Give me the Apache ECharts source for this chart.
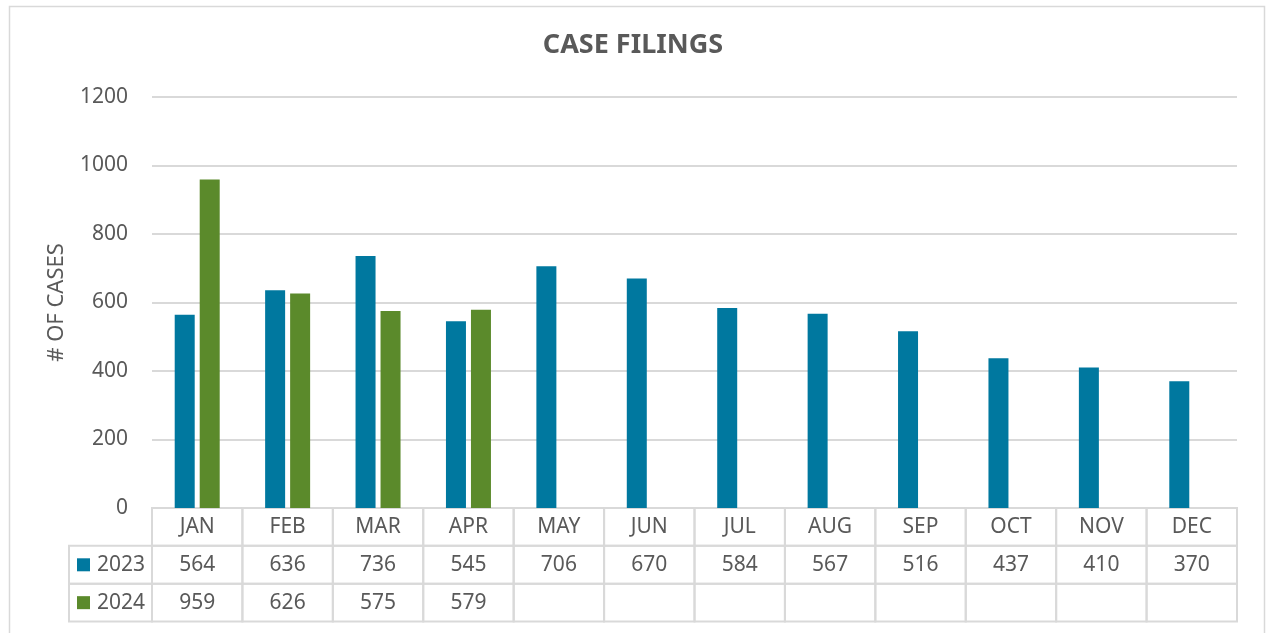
<!DOCTYPE html>
<html>
<head>
<meta charset="utf-8">
<script src="https://cdn.jsdelivr.net/npm/echarts@6/dist/echarts.min.js"></script>
<style>
  html, body { margin: 0; padding: 0; background: #fff; }
  #chart { width: 1266px; height: 633px; }
</style>
</head>
<body>
<div id="chart"></div>
<script>
const months = ["JAN", "FEB", "MAR", "APR", "MAY", "JUN", "JUL", "AUG", "SEP", "OCT", "NOV", "DEC"];
const cases2023 = [564, 636, 736, 545, 706, 670, 584, 567, 516, 437, 410, 370];
const cases2024 = [959, 626, 575, 579, null, null, null, null, null, null, null, null];
const yTicks = [0, 200, 400, 600, 800, 1000, 1200];

const blue = "#00789F";
const green = "#5B8A2B";
const grey = "#595959";
const lineGrey = "#d9d9d9";
const font = "Noto Sans";

// left column of the data table (legend keys), in month units
const keyStart = -83 / 90.42;

// table cells: [x0, x1, row, text, kind]
const cells = [];
months.forEach((m, i) => cells.push([i, i + 1, 0, m, "hdr"]));
cells.push([keyStart, 0, 1, "2023", "key"]);
cases2023.forEach((v, i) => cells.push([i, i + 1, 1, v == null ? "" : String(v), "val"]));
cells.push([keyStart, 0, 2, "2024", "key"]);
cases2024.forEach((v, i) => cells.push([i, i + 1, 2, v == null ? "" : String(v), "val"]));

function renderCell(params, api) {
  const row = api.value(2);
  const p0 = api.coord([api.value(0), row]);
  const p1 = api.coord([api.value(1), row]);
  const h = api.size([0, 1])[1];
  const x = p0[0], w = p1[0] - p0[0], y = p0[1] - h / 2;
  const text = cells[params.dataIndex][3];
  const kind = cells[params.dataIndex][4];
  const children = [{
    type: "rect",
    shape: { x: x, y: y, width: w, height: h },
    style: { fill: "none", stroke: lineGrey, lineWidth: 2 }
  }];
  if (kind === "key") {
    children.push({
      type: "rect",
      shape: { x: x + 8, y: p0[1] - 6.5, width: 13, height: 13 },
      style: { fill: row === 1 ? blue : green }
    });
    children.push({
      type: "text",
      style: { text: text, x: x + 28, y: p0[1], align: "left", verticalAlign: "middle",
        fill: grey, fontSize: 21, fontFamily: font }
    });
  } else {
    children.push({
      type: "text",
      style: { text: text, x: x + w / 2, y: p0[1], align: "center", verticalAlign: "middle",
        fill: grey, fontSize: 21, fontFamily: font }
    });
  }
  return { type: "group", children: children };
}

const chart = echarts.init(document.getElementById("chart"), null, { renderer: "canvas" });

chart.setOption({
  animation: false,
  backgroundColor: "#fff",
  textStyle: { fontFamily: font },
  title: {
    text: "CASE FILINGS",
    left: "center",
    top: 27,
    textStyle: { color: grey, fontSize: 27, fontWeight: "bold", fontFamily: font }
  },
  graphic: [{
    type: "rect",
    left: 7, top: 4,
    shape: { width: 1255, height: 700 },
    style: { fill: "none", stroke: lineGrey, lineWidth: 1.5 },
    silent: true
  }],
  grid: [
    { left: 152, right: 29, top: 97, bottom: 125 },
    { left: 69, right: 29, top: 508, height: 113.6 }
  ],
  xAxis: [
    {
      type: "category",
      data: months,
      gridIndex: 0,
      axisLine: { lineStyle: { color: lineGrey, width: 2 } },
      axisTick: { show: false },
      axisLabel: { show: false }
    },
    {
      type: "value",
      gridIndex: 1,
      min: keyStart,
      max: 12,
      show: false
    }
  ],
  yAxis: [
    {
      type: "value",
      gridIndex: 0,
      min: yTicks[0],
      max: yTicks[yTicks.length - 1],
      interval: 200,
      name: "# OF CASES",
      nameLocation: "middle",
      nameGap: 84,
      nameTextStyle: { color: grey, fontSize: 22, fontFamily: font },
      axisLine: { show: false },
      axisTick: { show: false },
      axisLabel: { color: grey, fontSize: 21, margin: 24, fontFamily: font,
        formatter: v => String(v) },
      splitLine: { lineStyle: { color: lineGrey, width: 2 } }
    },
    {
      type: "category",
      gridIndex: 1,
      data: ["hdr", "2023", "2024"],
      inverse: true,
      show: false
    }
  ],
  series: [
    {
      name: "2023",
      type: "bar",
      data: cases2023,
      barWidth: 20,
      barGap: "25%",
      itemStyle: { color: blue }
    },
    {
      name: "2024",
      type: "bar",
      data: cases2024,
      barWidth: 20,
      barGap: "25%",
      itemStyle: { color: green }
    },
    {
      type: "custom",
      xAxisIndex: 1,
      yAxisIndex: 1,
      renderItem: renderCell,
      encode: { x: [0, 1], y: 2 },
      data: cells.map(c => [c[0], c[1], c[2]]),
      silent: true
    }
  ]
});
</script>
</body>
</html>
